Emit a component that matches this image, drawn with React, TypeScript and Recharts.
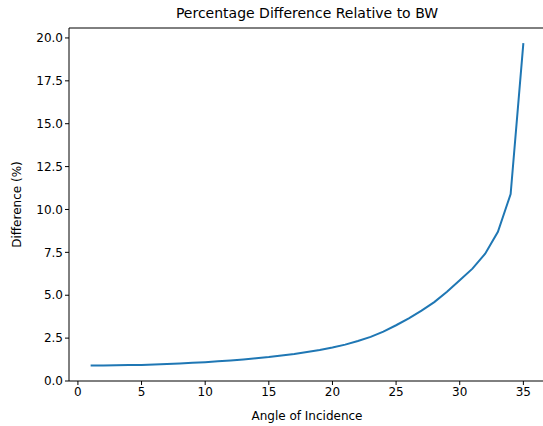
import { LineChart, Line, XAxis, YAxis, ReferenceLine, Label } from 'recharts';

// #region Sample data
const angles = [
  1, 2, 3, 4, 5, 6, 7, 8, 9, 10, 11, 12, 13, 14, 15, 16, 17, 18,
  19, 20, 21, 22, 23, 24, 25, 26, 27, 28, 29, 30, 31, 32, 33, 34, 35,
];
const differences = [
  0.91, 0.91, 0.92, 0.93, 0.94, 0.96, 0.99, 1.02, 1.06, 1.1, 1.15, 1.2,
  1.26, 1.33, 1.4, 1.49, 1.58, 1.69, 1.81, 1.95, 2.12, 2.33, 2.57, 2.88,
  3.25, 3.65, 4.1, 4.6, 5.2, 5.87, 6.55, 7.42, 8.7, 10.9, 19.7,
];
const xTicks = [0, 5, 10, 15, 20, 25, 30, 35];
const yTicks = [0, 2.5, 5, 7.5, 10, 12.5, 15, 17.5, 20];
// #endregion

const data = angles.map((a, i) => ({ angle: a, diff: differences[i] }));

const font = 'DejaVu Sans, sans-serif';
const yMax = 20.58;

const DifferenceChart = () => {
  return (
    <div style={{ position: 'absolute', left: 0, top: 0, width: 543, height: 426, overflow: 'hidden', background: '#fff' }}>
      <div
        style={{
          position: 'absolute',
          top: 5,
          left: 69,
          width: 476,
          textAlign: 'center',
          fontFamily: font,
          fontSize: 14,
          color: '#000',
        }}
      >
        Percentage Difference Relative to BW
      </div>
      <LineChart
        width={545}
        height={426}
        data={data}
        margin={{ top: 28, right: 0, left: 0, bottom: 0 }}
        style={{ fontFamily: font }}
      >
        <XAxis
          dataKey="angle"
          type="number"
          domain={[-0.7, 36.7]}
          ticks={xTicks}
          height={45}
          stroke="#000"
          tickSize={4}
          tick={{ fill: '#000', fontSize: 12 }}
          allowDataOverflow
        >
          <Label value="Angle of Incidence" position="insideBottom" offset={6} fill="#000" fontSize={12} />
        </XAxis>
        <YAxis
          type="number"
          domain={[0, yMax]}
          ticks={yTicks}
          width={69}
          stroke="#000"
          tickSize={4}
          tick={{ fill: '#000', fontSize: 12 }}
          tickFormatter={(v: number) => v.toFixed(1)}
          allowDataOverflow
        >
          <Label value="Difference (%)" angle={-90} position="insideLeft" offset={17} fill="#000" fontSize={12} style={{ textAnchor: 'middle' }} />
        </YAxis>
        <ReferenceLine y={yMax} stroke="#000" />
        <Line
          type="linear"
          dataKey="diff"
          stroke="#1f77b4"
          strokeWidth={2}
          dot={false}
          isAnimationActive={false}
        />
      </LineChart>
    </div>
  );
};

export default DifferenceChart;
